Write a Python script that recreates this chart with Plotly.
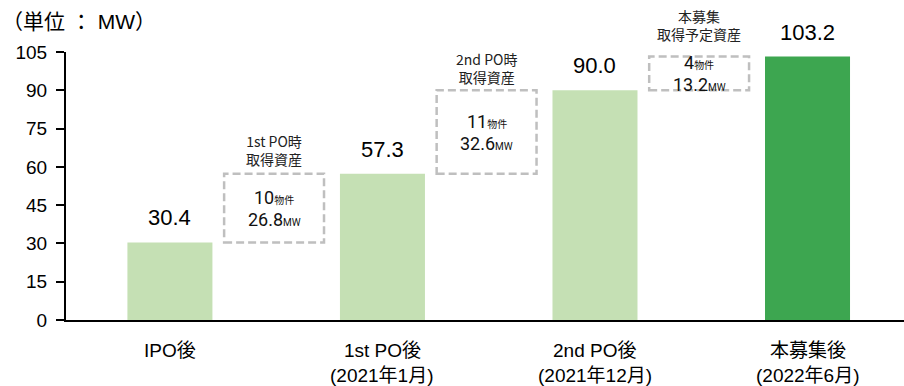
import plotly.graph_objects as go

categories = ["IPO後", "1st PO後", "2nd PO後", "本募集後"]
cat_sub = ["", "(2021年1月)", "(2021年12月)", "(2022年6月)"]
values = [30.4, 57.3, 90.0, 103.2]
bar_colors = ["#C5E0B4", "#C5E0B4", "#C5E0B4", "#3DA650"]

add_headers = ["1st PO時<br>取得資産", "2nd PO時<br>取得資産", "本募集<br>取得予定資産"]
add_counts = [10, 11, 4]
add_mw = [26.8, 32.6, 13.2]

y_ticks = [0, 15, 30, 45, 60, 75, 90, 105]

LAT = "Liberation Sans, Arial, Noto Sans CJK JP, sans-serif"
CJK = "Noto Sans CJK JP, sans-serif"
BOX = "Roboto, Noto Sans CJK JP, sans-serif"

xs = list(range(len(categories)))
fig = go.Figure()
fig.add_trace(go.Bar(x=xs, y=values, width=0.4, marker=dict(color=bar_colors, line=dict(width=0)),
                     hoverinfo="skip"))

ann = []
for x, v in zip(xs, values):
    ann.append(dict(x=x, y=v, xref="x", yref="y", text=f"{v:.1f}", showarrow=False,
                    yanchor="bottom", yshift=10, font=dict(family=LAT, size=22, color="#000")))

for x, c, s in zip(xs, categories, cat_sub):
    ann.append(dict(x=x, y=0, xref="x", yref="y", text=c, showarrow=False, yanchor="middle",
                    yshift=-30, font=dict(family=LAT, size=19, color="#000")))
    if s:
        ann.append(dict(x=x, y=0, xref="x", yref="y", text=s, showarrow=False, yanchor="middle",
                        yshift=-55, font=dict(family=LAT, size=19, color="#000")))

hdr_shift = [3, 1, 11]
for i in range(len(add_counts)):
    xc = i + 0.49
    y0, y1 = values[i], values[i + 1]
    fig.add_shape(type="rect", xref="x", yref="y", x0=xc - 0.235, x1=xc + 0.235, y0=y0, y1=y1,
                  line=dict(color="#BFBFBF", width=2.5, dash="8px,4px"), fillcolor="rgba(0,0,0,0)")
    mid = (y0 + y1) / 2
    ann.append(dict(x=xc, y=mid, xref="x", yref="y", showarrow=False, yanchor="middle", yshift=11,
                    text=f"{add_counts[i]}<span style='font-size:10px'>物件</span>",
                    font=dict(family=BOX, size=18, color="#111")))
    ann.append(dict(x=xc, y=mid, xref="x", yref="y", showarrow=False, yanchor="middle", yshift=-11,
                    text=f"{add_mw[i]:.1f}<span style='font-size:10px'>MW</span>",
                    font=dict(family=BOX, size=18, color="#111")))
    ann.append(dict(x=xc, y=y1, xref="x", yref="y", showarrow=False, yanchor="bottom", yshift=hdr_shift[i],
                    text=add_headers[i], font=dict(family=CJK, size=14, color="#222")))

ann.append(dict(x=-66 / 838, y=1.114, xref="paper", yref="paper", xanchor="left", yanchor="middle",
                showarrow=False, text="（単位 ： MW）", font=dict(family=LAT, size=21, color="#000")))

fig.update_layout(
    width=904, height=386,
    margin=dict(l=66, r=0, t=52, b=66),
    paper_bgcolor="white", plot_bgcolor="white",
    showlegend=False,
    annotations=ann,
    xaxis=dict(range=[-0.489, 3.454], showticklabels=False, showgrid=False, zeroline=False,
               showline=True, linecolor="#000", linewidth=2, ticks=""),
    yaxis=dict(range=[0, 105], tickvals=y_ticks, showgrid=False, zeroline=False,
               showline=True, linecolor="#000", linewidth=2, ticks="outside", ticklen=8, tickwidth=2,
               tickcolor="#000", ticklabelstandoff=5,
               tickfont=dict(family=LAT, size=19, color="#000")),
)

fig.write_html("out.html")
